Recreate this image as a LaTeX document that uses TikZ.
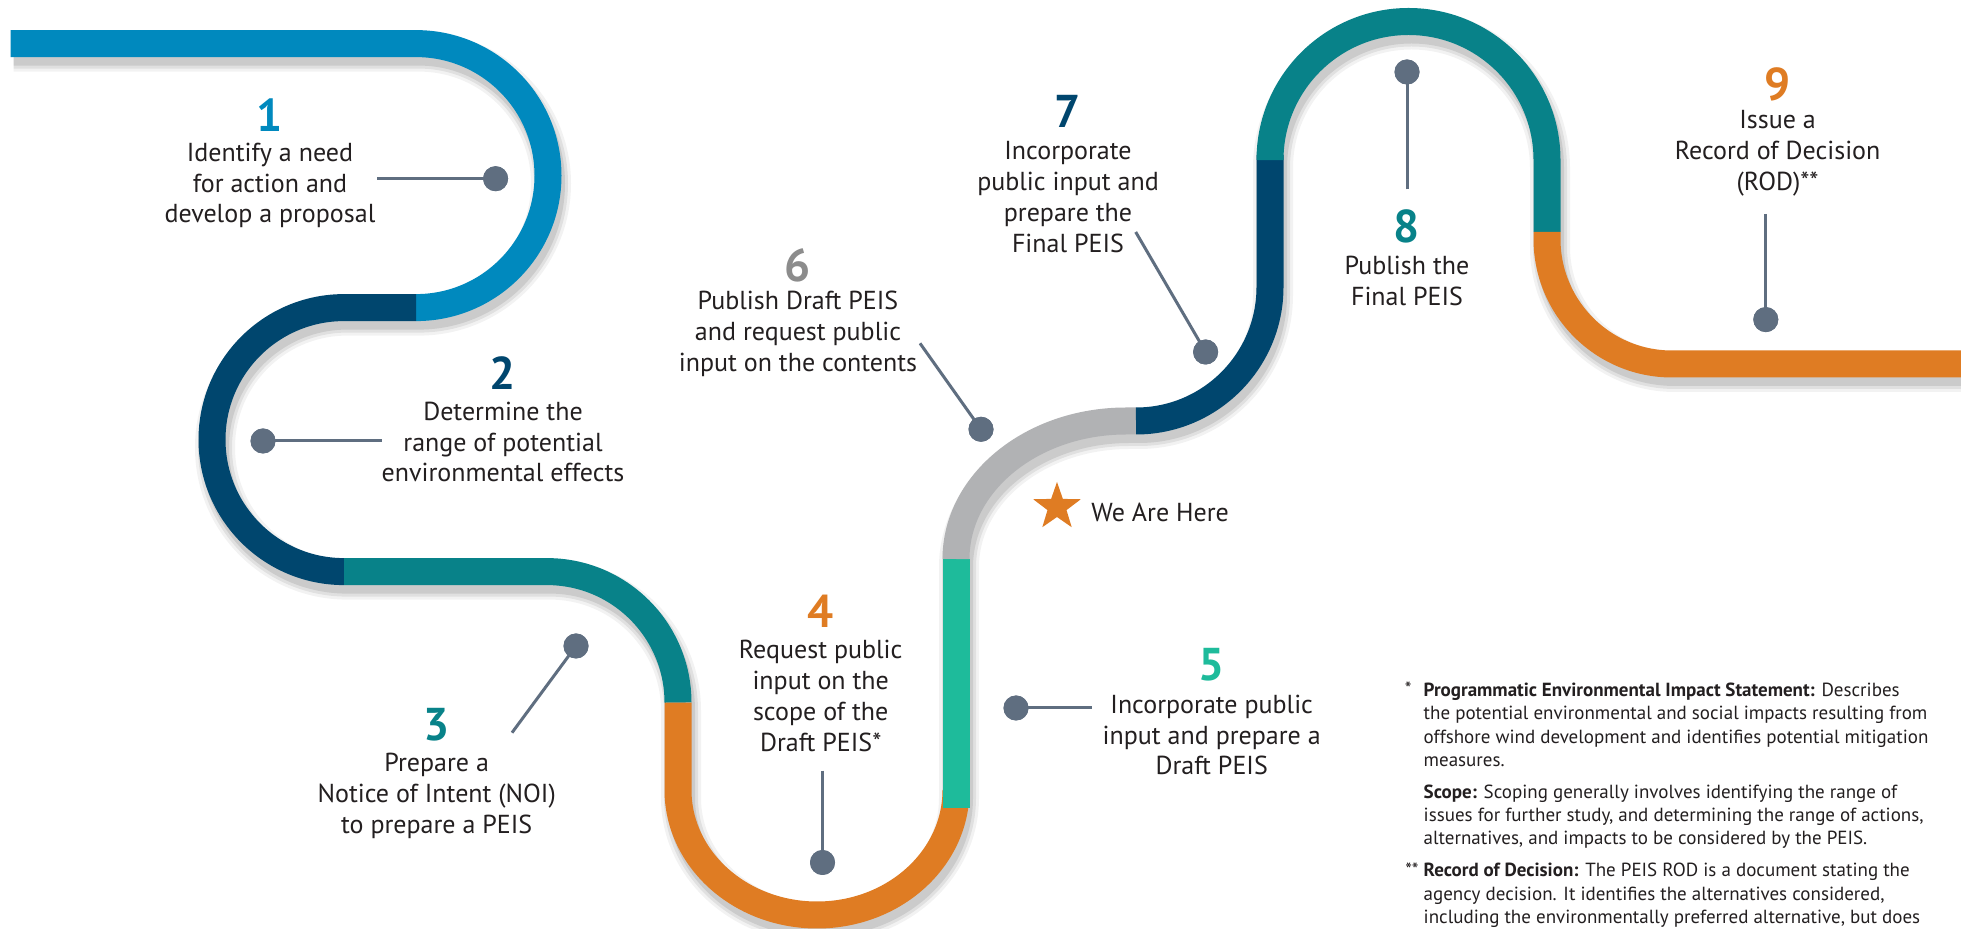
\documentclass[tikz,border=0pt]{standalone}
\usepackage{fontspec}
\setmainfont{PT Sans}
\usetikzlibrary{shapes.geometric}
\definecolor{lb}{RGB}{0,137,190}
\definecolor{nv}{RGB}{0,70,110}
\definecolor{tl}{RGB}{8,130,137}
\definecolor{orng}{RGB}{223,124,35}
\definecolor{gr}{RGB}{30,187,155}
\definecolor{gy}{RGB}{177,178,180}
\definecolor{dotc}{RGB}{95,110,128}
\definecolor{numgy}{RGB}{140,140,140}
\definecolor{txt}{RGB}{35,31,32}
\tikzset{
  band/.style={line width=13.5pt, line cap=butt},
  lbl/.style={font=\fontsize{13}{15.4}\selectfont, align=center, text=txt, inner sep=0pt},
  num/.style={font=\fontsize{23}{23}\selectfont\bfseries, inner sep=0pt},
  dot/.style={circle, fill=dotc, minimum size=12.5pt, inner sep=0pt},
  conn/.style={draw=dotc, line width=1.5pt},
  fn/.style={font=\fontsize{9.5}{11.7}\selectfont, text=txt, inner sep=0pt, align=left},
}
\begin{document}
\begin{tikzpicture}[x=0.5pt,y=-0.5pt]
\clip (0,0) rectangle (1961,929);
\fill[white] (0,0) rectangle (1961,929);
% shadow
\begin{scope}[shift={(3,8)}]
\foreach \w/\o in {20pt/0.05,17pt/0.07,14pt/0.09}{
\draw[line width=\w, black, opacity=\o]
  (10.7,43.6) -- (416,43.6) arc[start angle=-90,end angle=90,radius=132]
  -- (344,307.6) arc[start angle=-90,end angle=-270,radius=132]
  -- (547,571.6) arc[start angle=-90,end angle=0,radius=131]
  -- (678,790) arc[start angle=180,end angle=0,x radius=139,y radius=125]
  -- (956,559) arc[start angle=180,end angle=270,x radius=170,y radius=138]
  -- (1136,421) arc[start angle=90,end angle=0,radius=134]
  -- (1270,160) arc[start angle=180,end angle=360,radius=138.5]
  -- (1547,239) arc[start angle=180,end angle=90,radius=125]
  -- (1961,364);
}
\end{scope}
% coloured bands
\draw[band, lb] (10.7,43.6) -- (416,43.6) arc[start angle=-90,end angle=90,radius=132];
\draw[band, nv] (416,307.6) -- (344,307.6) arc[start angle=-90,end angle=-270,radius=132];
\draw[band, tl] (344,571.6) -- (547,571.6) arc[start angle=-90,end angle=0,radius=131];
\draw[band, orng] (678,702.6) -- (678,790) arc[start angle=180,end angle=0,x radius=139,y radius=125] -- (956,808);
\draw[band, gr] (956,808) -- (956,559);
\draw[band, gy] (956,559) arc[start angle=180,end angle=270,x radius=170,y radius=138] -- (1136,421);
\draw[band, nv] (1136,421) arc[start angle=90,end angle=0,radius=134] -- (1270,155);
\draw[band, tl] (1270,155) -- (1270,160) arc[start angle=180,end angle=360,radius=138.5] -- (1547,232);
\draw[band, orng] (1547,232) -- (1547,239) arc[start angle=180,end angle=90,radius=125] -- (1961,364);

% dots and connector ends
\node[dot] (d1) at (495.6,178.7) {};
\node[dot] (d2) at (263,441) {};
\node[dot] (d3) at (576,646) {};
\node[dot] (d4) at (822.5,862.5) {};
\node[dot] (d5) at (1016,708) {};
\node[dot] (d6) at (981,429.3) {};
\node[dot] (d7) at (1205.6,352) {};
\node[dot] (d8) at (1407,72) {};
\node[dot] (d9) at (1765.8,319.6) {};
\coordinate (c1) at (377,178.7);
\coordinate (c2) at (381.5,441);
\coordinate (c3) at (512,732.7);
\coordinate (c4) at (822.5,770.7);
\coordinate (c5) at (1091.7,708);
\coordinate (c6) at (920,343.3);
\coordinate (c7) at (1135.7,232);
\coordinate (c8) at (1407,189.4);
\coordinate (c9) at (1765.8,213.8);
\foreach \i in {1,...,9}{\draw[conn] (c\i) -- (d\i.center);}
\foreach \i in {1,...,9}{\fill[dotc] (d\i) circle[radius=6.25pt];}

% numbers
\node[num, text=lb] (n1) at (270,115) {1};
\node[num, text=nv] (n2) at (503,373) {2};
\node[num, text=tl] (n3) at (436.7,725) {3};
\node[num, text=orng] (n4) at (820.7,611.7) {4};
\node[num, text=gr] (n5) at (1211.7,665) {5};
\node[num, text=numgy] (n6) at (798,265) {6};
\node[num, text=nv] (n7) at (1068,111) {7};
\node[num, text=tl] (n8) at (1407,226) {8};
\node[num, text=orng] (n9) at (1777.6,84) {9};

% labels
\node[lbl] (t1) at (270,185.6) {Identify a need\\for action and\\develop a proposal};
\node[lbl] (t2) at (503,442) {Determine the\\range of potential\\environmental effects};
\node[lbl] (t3) at (436.7,796) {Prepare a\\Notice of Intent (NOI)\\to prepare a PEIS};
\node[lbl] (t4) at (820.7,696) {Request public\\input on the\\scope of the\\Draft PEIS*};
\node[lbl] (t5) at (1211.7,735) {Incorporate public\\input and prepare a\\Draft PEIS};
\node[lbl] (t6) at (798,334) {Publish Draft PEIS\\and request public\\input on the contents};
\node[lbl] (t7) at (1068,197) {Incorporate\\public input and\\prepare the\\Final PEIS};
\node[lbl] (t8) at (1407,281) {Publish the\\Final PEIS};
\node[lbl] (t9) at (1777.6,153.5) {Issue a\\Record of Decision\\(ROD)**};

% we are here
\node[star, star points=5, star point ratio=2.5, fill=orng, minimum size=25pt, inner sep=0pt] (star) at (1057,507) {};
\node[lbl, anchor=west] (here) at (1091,512) {We Are Here};

% footnotes (base anchor = last line baseline)
\node[fn, anchor=base east] (m1) at (1412,696) {*};
\node[fn, anchor=base west] (f1) at (1423.3,766.5) {\textbf{Programmatic Environmental Impact Statement:} Describes\\the potential environmental and social impacts resulting from\\offshore wind development and identifies potential mitigation\\measures.};
\node[fn, anchor=base west] (f2) at (1423.3,845) {\textbf{Scope:} Scoping generally involves identifying the range of\\issues for further study, and determining the range of actions,\\alternatives, and impacts to be considered by the PEIS.};
\node[fn, anchor=base east] (m2) at (1419,877) {**};
\node[fn, anchor=base west] (f3) at (1423.3,923.5) {\textbf{Record of Decision:} The PEIS ROD is a document stating the\\agency decision. It identifies the alternatives considered,\\including the environmentally preferred alternative, but does};
\end{tikzpicture}
\end{document}
